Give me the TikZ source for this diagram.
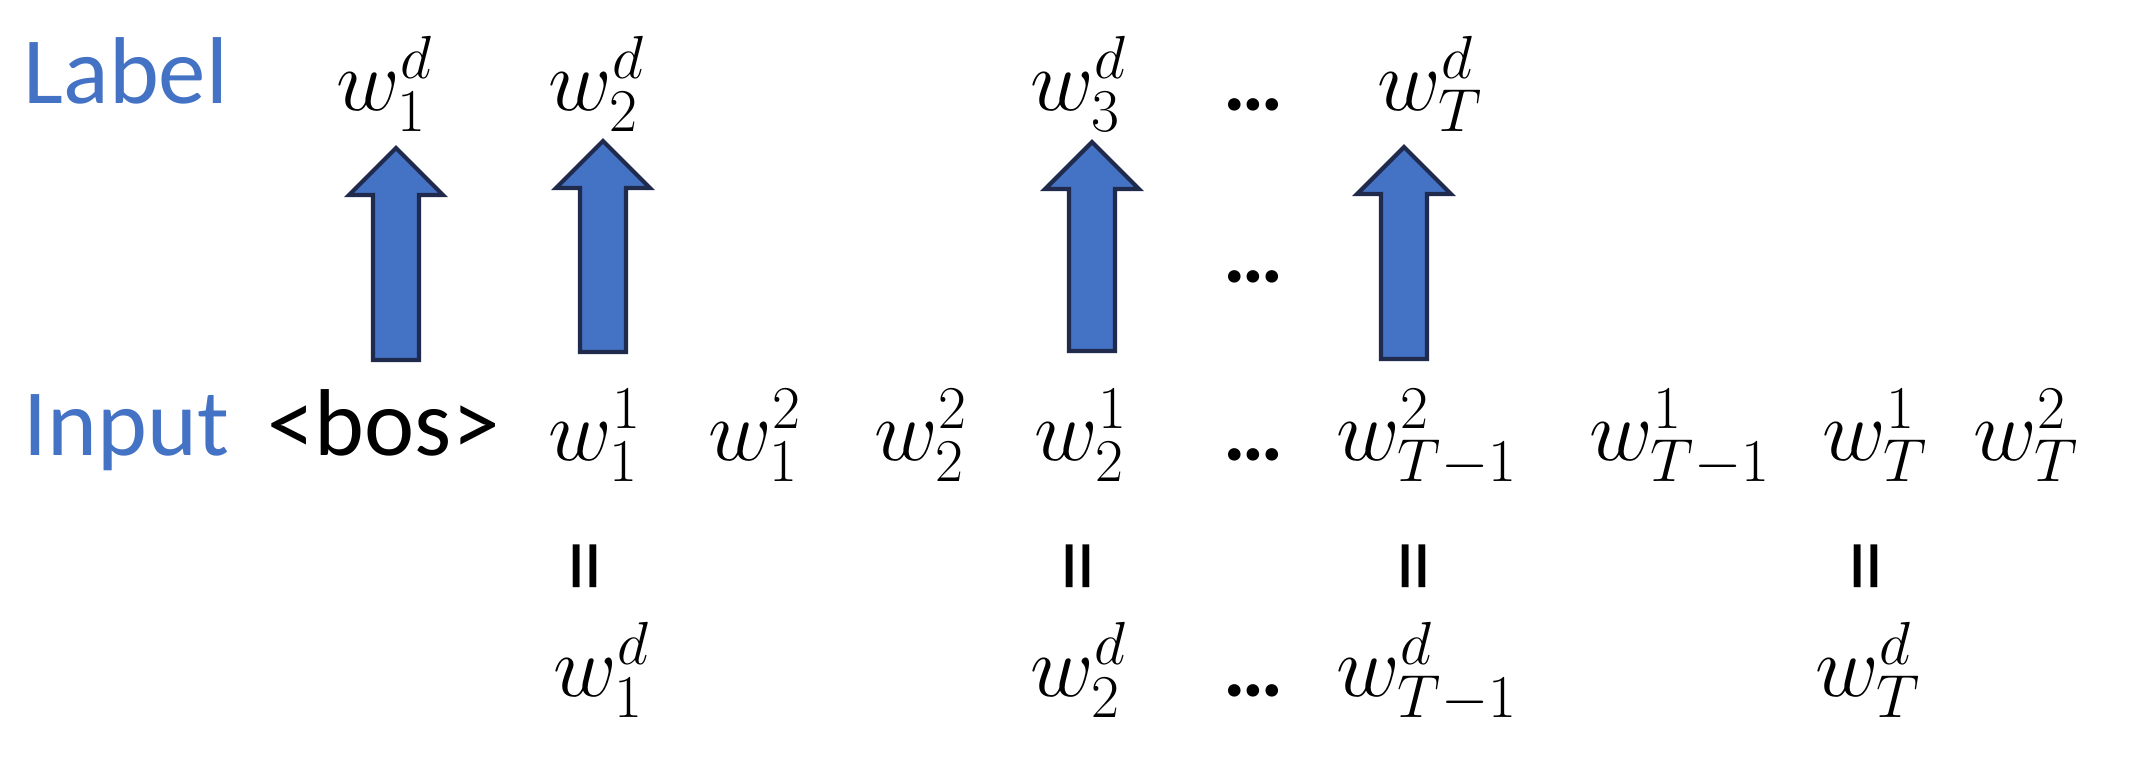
\documentclass[tikz,border=0pt]{standalone}
\usepackage{fontspec}
\setmainfont{Carlito}
\usetikzlibrary{calc}
\DeclareMathSizes{27}{27}{19}{14}
\definecolor{lblue}{HTML}{4472C4}
\definecolor{navy}{HTML}{1F2A4D}
\newcommand{\blockarr}[2]{%
  \draw[barrow] ($(#1)+(-23,0)$) -- ($(#2)+(-23,47)$) -- ($(#2)+(-47,47)$) -- (#2)
    -- ($(#2)+(47,47)$) -- ($(#2)+(23,47)$) -- ($(#1)+(23,0)$) -- cycle;}
\begin{document}
\begin{tikzpicture}[x=0.01cm,y=-0.01cm,
  tok/.style={inner sep=0pt,anchor=base west,font=\fontsize{27}{32}\selectfont},
  head/.style={inner sep=0pt,anchor=base west,text=lblue,font=\fontsize{27}{32}\selectfont},
  txt/.style={inner sep=0pt,anchor=base west,font=\fontsize{27}{32}\selectfont},
  eqs/.style={inner sep=0pt,rotate=90,font=\fontsize{30}{34}\selectfont},
  dotsn/.style={inner sep=0pt,anchor=base west,font=\fontsize{24}{28}\selectfont\bfseries},
  barrow/.style={fill=lblue,draw=navy,line width=1.2pt,line join=miter}]
\useasboundingbox (0,0) rectangle (2148,772);

% headings
\node[head] (lab) at (23,103) {Label};
\node[head] (inp) at (23,455) {Input};

% label row
\node[tok] (l1) at (336,110) {$w_1^d$};
\node[tok] (l2) at (548,110) {$w_2^d$};
\node[tok] (l3) at (1030,110) {$w_3^d$};
\node[dotsn] (ld) at (1223,110) {…};
\node[tok] (lT) at (1377,110) {$w_T^d$};

% middle dots
\node[dotsn] (md) at (1223,282) {…};

% input row
\node[txt] (bos) at (267,455) {<bos>};
\node[tok] (i1) at (548,460) {$w_1^1$};
\node[tok] (i2) at (708,460) {$w_1^2$};
\node[tok] (i3) at (874,460) {$w_2^2$};
\node[tok] (i4) at (1034,460) {$w_2^1$};
\node[dotsn] (id) at (1223,460) {…};
\node[tok] (i5) at (1336,460) {$w_{T-1}^2$};
\node[tok] (i6) at (1589,460) {$w_{T-1}^1$};
\node[tok] (i7) at (1822,460) {$w_T^1$};
\node[tok] (i8) at (1973,460) {$w_T^2$};

% equality signs
\node[eqs] (e1) at (596,566) {=};
\node[eqs] (e2) at (1089,566) {=};
\node[eqs] (e3) at (1425,566) {=};
\node[eqs] (e4) at (1877,566) {=};

% bottom row
\node[tok] (b1) at (553,696) {$w_1^d$};
\node[tok] (b2) at (1030,696) {$w_2^d$};
\node[dotsn] (bd) at (1223,696) {…};
\node[tok] (b3) at (1336,696) {$w_{T-1}^d$};
\node[tok] (b4) at (1815,696) {$w_T^d$};

% arrows
\coordinate (a1b) at (396,360); \coordinate (a1t) at (396,148);
\coordinate (a2b) at (603,352); \coordinate (a2t) at (603,141);
\coordinate (a3b) at (1092,351); \coordinate (a3t) at (1092,142);
\coordinate (a4b) at (1404,359); \coordinate (a4t) at (1404,147);
\blockarr{a1b}{a1t}
\blockarr{a2b}{a2t}
\blockarr{a3b}{a3t}
\blockarr{a4b}{a4t}
\end{tikzpicture}
\end{document}
